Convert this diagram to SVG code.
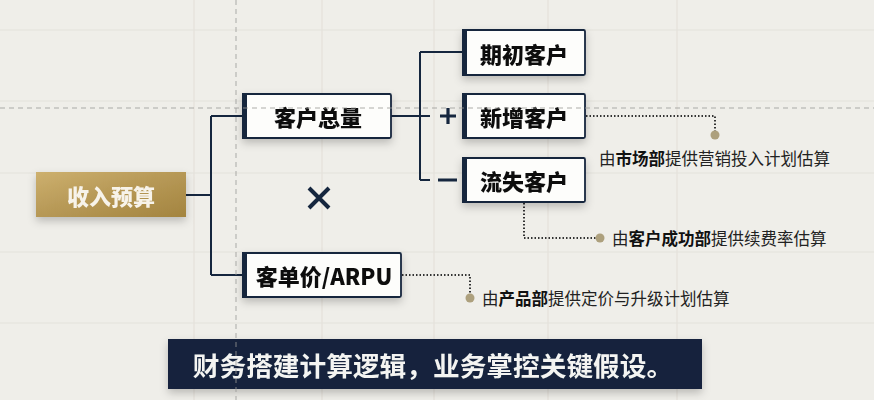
<svg xmlns="http://www.w3.org/2000/svg" width="874" height="400" viewBox="0 0 874 400">
<defs>
<linearGradient id="gold" x1="0" y1="0" x2="1" y2="1">
<stop offset="0" stop-color="#cdb06e"/>
<stop offset="0.45" stop-color="#b89a58"/>
<stop offset="1" stop-color="#a3843f"/>
</linearGradient>
<filter id="sh" x="-20%" y="-30%" width="140%" height="170%">
<feDropShadow dx="0" dy="4" stdDeviation="4" flood-color="#000" flood-opacity="0.22"/>
</filter>
<style>
.grid{stroke:#e4e2db;stroke-width:1.2;fill:none}
.guide{stroke:#9a9a96;stroke-width:1;stroke-dasharray:5 4;fill:none;opacity:0.8}
.box{fill:#fdfdfb;stroke:#15263e;stroke-width:1.8}
.bar{fill:#15263e}
.lbl{font-family:"Noto Sans CJK SC","Noto Sans",sans-serif;font-weight:900;font-size:22px;fill:#111;text-anchor:middle;dominant-baseline:central}
.conn{stroke:#15263e;stroke-width:2;fill:none}
.dot{stroke:#333;stroke-width:2;stroke-dasharray:1.5 2;fill:none}
.pin{fill:#ada07d}
.note{font-family:"Noto Sans CJK SC","Noto Sans",sans-serif;font-size:16.5px;fill:#222;dominant-baseline:central}
.note tspan.b{font-weight:700;fill:#111}
.sign{stroke:#15263e;stroke-width:3.2;fill:none}
</style>
</defs>
<rect width="874" height="400" fill="#efeee9"/>
<g id="grid">
<path class="grid" d="M194 0V400M322 0V400M434 0V400M548 0V400M677 0V400M0 30H874M0 101H874M0 173H874M0 252H874M0 323H874"/>
</g>
<g id="connectors">
<path class="conn" d="M186 195H211M211 116V275M211 116H243M211 275H243"/>
<path class="conn" d="M391 116H420M420 52V180M420 52H462M420 116H430M420 180H430"/>
<path class="sign" d="M440 116H456M448 108V124M438 180H457"/>
<path class="dot" d="M586 116H715V131"/>
<circle class="pin" cx="715" cy="135" r="4.5"/>
<path class="dot" d="M524 203V238H596"/>
<circle class="pin" cx="600" cy="238" r="4.5"/>
<path class="dot" d="M402 275H470V294"/>
<circle class="pin" cx="470" cy="298" r="4.5"/>
</g>
<g id="node-revenue" filter="url(#sh)">
<rect x="36" y="172" width="150" height="45" fill="url(#gold)"/>
<text x="111" y="194.5" class="lbl" style="fill:#f7f3ea">收入预算</text>
</g>
<g id="node-total" filter="url(#sh)">
<rect class="box" x="243" y="94" width="148" height="44" rx="1.5"/>
<rect class="bar" x="242" y="93" width="5" height="46"/>
<text x="318" y="116" class="lbl">客户总量</text>
</g>
<g id="node-arpu" filter="url(#sh)">
<rect class="box" x="243" y="253" width="158" height="44" rx="1.5"/>
<rect class="bar" x="242" y="252" width="5" height="46"/>
<text x="324" y="275" class="lbl">客单价/ARPU</text>
</g>
<g id="node-opening" filter="url(#sh)">
<rect class="box" x="463" y="30" width="122" height="45" rx="1.5"/>
<rect class="bar" x="462" y="29" width="5" height="47"/>
<text x="524" y="52.5" class="lbl">期初客户</text>
</g>
<g id="node-new" filter="url(#sh)">
<rect class="box" x="463" y="94" width="122" height="44" rx="1.5"/>
<rect class="bar" x="462" y="93" width="5" height="46"/>
<text x="524" y="116" class="lbl">新增客户</text>
</g>
<g id="node-churn" filter="url(#sh)">
<rect class="box" x="463" y="158" width="122" height="44" rx="1.5"/>
<rect class="bar" x="462" y="157" width="5" height="46"/>
<text x="524" y="180" class="lbl">流失客户</text>
</g>
<g id="times">
<path d="M309 188L329 208M329 188L309 208" stroke="#15263e" stroke-width="4" fill="none"/>
</g>
<g id="note-market">
<text class="note" x="599" y="158">由<tspan class="b">市场部</tspan>提供营销投入计划估算</text>
</g>
<g id="note-cs">
<text class="note" x="612" y="238">由<tspan class="b">客户成功部</tspan>提供续费率估算</text>
</g>
<g id="note-product">
<text class="note" x="482" y="298">由<tspan class="b">产品部</tspan>提供定价与升级计划估算</text>
</g>
<g id="banner" filter="url(#sh)">
<rect x="168" y="339" width="534" height="50" fill="#13243d"/>
<text x="433" y="364" font-family="Noto Sans CJK SC, Noto Sans, sans-serif" font-weight="700" font-size="26.7" fill="#f4f4f2" text-anchor="middle" dominant-baseline="central">财务搭建计算逻辑，业务掌控关键假设。</text>
</g>
<g id="guides">
<path class="guide" d="M236 0V400M0 108H874"/>
</g>
</svg>
